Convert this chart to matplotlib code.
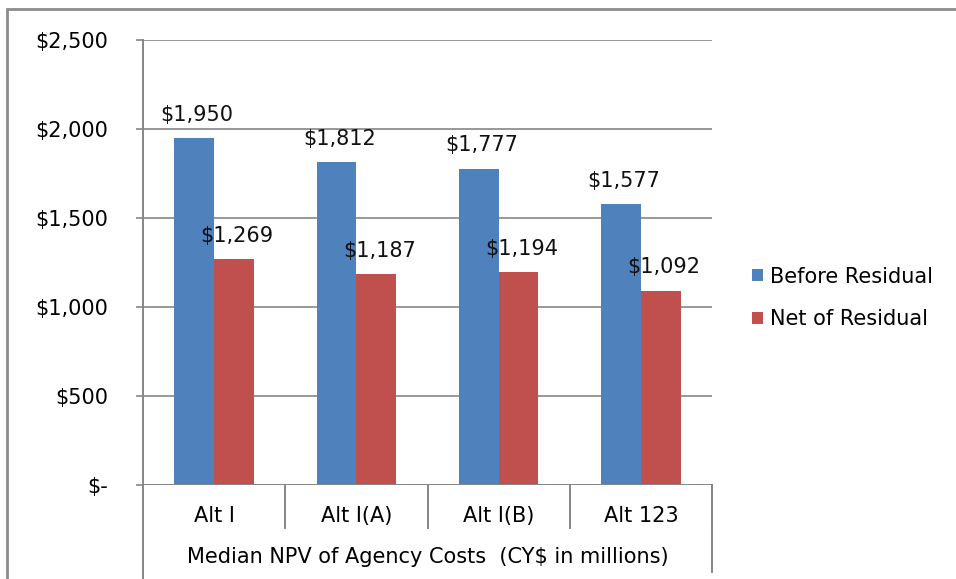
import matplotlib.pyplot as plt
import numpy as np
from matplotlib.patches import Rectangle

plt.rcParams['font.family'] = ['DejaVu Sans']

# data
categories = ['Alt I', 'Alt I(A)', 'Alt I(B)', 'Alt 123']
before_residual = [1950, 1812, 1777, 1577]
net_of_residual = [1269, 1187, 1194, 1092]
y_ticks = [0, 500, 1000, 1500, 2000, 2500]
y_tick_labels = ['$-', '$500', '$1,000', '$1,500', '$2,000', '$2,500']
group_title = 'Median NPV of Agency Costs  (CY$ in millions)'

blue = '#4F81BD'
red = '#C0504D'
grid_c = '#868686'

fig = plt.figure(figsize=(9.56, 5.79), dpi=100)
ax = fig.add_axes([143 / 956, 94 / 579, 569 / 956, 445 / 579])

x = np.arange(len(categories))
w = 0.28
b1 = ax.bar(x - w / 2, before_residual, w, color=blue, label='Before Residual', zorder=3)
b2 = ax.bar(x + w / 2, net_of_residual, w, color=red, label='Net of Residual', zorder=3)

fs = 15
for bars in (b1, b2):
    for r in bars:
        v = r.get_height()
        ax.annotate(f'${v:,.0f}', (r.get_x() + r.get_width() / 2 + 0.02, v),
                    xytext=(0, 9.5), textcoords='offset points',
                    ha='center', va='bottom', fontsize=fs, color='#111111')

ax.set_xlim(-0.5, len(categories) - 0.5)
ax.set_ylim(0, 2500)
ax.set_yticks(y_ticks)
ax.set_yticklabels(y_tick_labels, fontsize=fs)
ax.tick_params(axis='y', length=5, width=1.2, color=grid_c, pad=20)
ax.set_xticks([])
ax.yaxis.grid(True, color=grid_c, linewidth=1.2, zorder=0)
for s in ['top', 'right', 'bottom']:
    ax.spines[s].set_visible(False)
ax.spines['left'].set_color(grid_c)
ax.spines['left'].set_linewidth(1.4)
ax.axhline(0, color=grid_c, linewidth=1.4, zorder=4)

# two-level category axis (Excel style)
to_ax = lambda py: -(py - 485) / 445
n = len(categories)
for i, c in enumerate(categories):
    ax.text((i + 0.5) / n, to_ax(516), c, transform=ax.transAxes,
            ha='center', va='center', fontsize=fs)
    ax.plot([(i + 1) / n] * 2, [0, to_ax(528)], transform=ax.transAxes,
            color=grid_c, linewidth=1.4, clip_on=False)
ax.plot([0, 0], [0, to_ax(580)], transform=ax.transAxes,
        color=grid_c, linewidth=1.4, clip_on=False)
ax.plot([1, 1], [0, to_ax(572)], transform=ax.transAxes,
        color=grid_c, linewidth=1.4, clip_on=False)
ax.text(0.5, to_ax(557), group_title, transform=ax.transAxes,
        ha='center', va='center', fontsize=fs)

ax.legend(loc='center left', bbox_to_anchor=(744 / 956, (579 - 298) / 579),
          bbox_transform=fig.transFigure, frameon=False, fontsize=fs,
          handlelength=0.5, handleheight=0.5, handletextpad=0.35,
          labelspacing=1.1, borderaxespad=0)

# outer chart border
fig.patches.append(Rectangle((7 / 956, -0.05), 1.2, (579 - 9) / 579 + 0.05,
                             transform=fig.transFigure, fill=False,
                             edgecolor='#8c8c8c', linewidth=2))

fig.savefig('out.png', dpi=100)
